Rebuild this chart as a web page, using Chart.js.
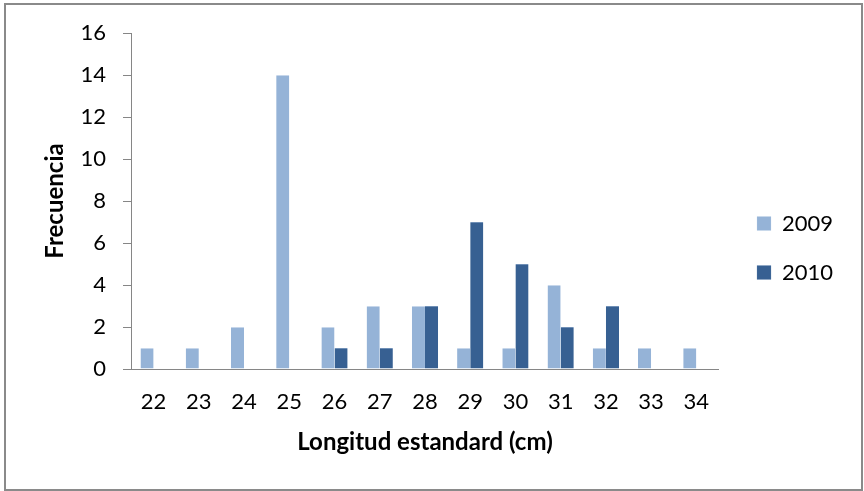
<!DOCTYPE html>
<html>
<head>
<meta charset="utf-8">
<script src="https://cdn.jsdelivr.net/npm/chart.js@4.4.1/dist/chart.umd.min.js"></script>
<style>
  html, body { margin: 0; padding: 0; background: #fff; }
  #wrap { position: relative; width: 864px; height: 491px; }
  #frame {
    position: absolute; left: 4px; top: 3px; width: 859px; height: 488px;
    box-sizing: border-box; border: 2px solid #8a8a8a; pointer-events: none;
  }
  canvas { position: absolute; left: 0; top: 0; }
</style>
</head>
<body>
<div id="wrap">
  <canvas id="c" width="864" height="491"></canvas>
  <div id="frame"></div>
</div>
<script>
// Length classes (cm) and frequency per year
const categories = ['22', '23', '24', '25', '26', '27', '28', '29', '30', '31', '32', '33', '34'];
const freq2009 = [1, 1, 2, 14, 2, 3, 3, 1, 1, 4, 1, 1, 1];
const freq2010 = [0, 0, 0, 0, 1, 1, 3, 7, 5, 2, 3, 0, 0];
const seriesNames = ['2009', '2010'];

const FONT = 'Lato, "Open Sans", sans-serif';
const AXIS_GREY = '#868686';

// Moves the legend column next to the plot area
const legendShift = {
  id: 'legendShift',
  afterLayout(chart) {
    const lg = chart.legend;
    if (!lg) return;
    const dx = 730 - lg.left;
    const dy = 24 - lg.top;
    lg.left += dx; lg.right += dx;
    lg.top += dy; lg.bottom += dy;
  }
};

new Chart(document.getElementById('c'), {
  type: 'bar',
  data: {
    labels: categories,
    datasets: [
      {
        label: seriesNames[0],
        data: freq2009,
        backgroundColor: '#95b3d7',
        borderColor: '#c6d6ea',
        borderWidth: { top: 1, left: 0, right: 0, bottom: 0 },
        borderSkipped: 'bottom'
      },
      {
        label: seriesNames[1],
        data: freq2010,
        backgroundColor: '#376092',
        borderColor: '#6f8fb6',
        borderWidth: { top: 1, left: 0, right: 0, bottom: 0 },
        borderSkipped: 'bottom'
      }
    ]
  },
  options: {
    responsive: false,
    animation: false,
    devicePixelRatio: 1,
    categoryPercentage: 0.58,
    barPercentage: 1.0,
    layout: { padding: { left: 0, right: 32, top: 33, bottom: 10 } },
    plugins: {
      tooltip: { enabled: false },
      legend: {
        position: 'right',
        labels: {
          boxWidth: 14,
          boxHeight: 14,
          padding: 27,
          color: '#000',
          font: { family: FONT, size: 22 }
        }
      }
    },
    scales: {
      x: {
        grid: { display: true, drawOnChartArea: false, drawTicks: false },
        border: { display: true, color: AXIS_GREY, width: 1 },
        ticks: { color: '#000', padding: 20, font: { family: FONT, size: 22 }, maxRotation: 0 },
        title: {
          display: true,
          text: 'Longitud estandard (cm)',
          color: '#000',
          font: { family: FONT, size: 24, weight: 'bold', lineHeight: 1.2 },
          padding: { top: 0, bottom: 24 }
        },
        afterFit(s) { s.height = 112; }
      },
      y: {
        min: 0,
        max: 16,
        ticks: { stepSize: 2, color: '#000', padding: 17, font: { family: FONT, size: 22 } },
        grid: { display: true, drawOnChartArea: false, drawTicks: true, tickLength: 8, color: AXIS_GREY },
        border: { display: true, color: AXIS_GREY, width: 1 },
        title: {
          display: true,
          text: 'Frecuencia',
          color: '#000',
          font: { family: FONT, size: 24, weight: 'bold', lineHeight: 1.2 },
          padding: { top: 41, bottom: 0 }
        },
        afterFit(s) { s.width = 131; }
      }
    }
  },
  plugins: [legendShift]
});
</script>
</body>
</html>
